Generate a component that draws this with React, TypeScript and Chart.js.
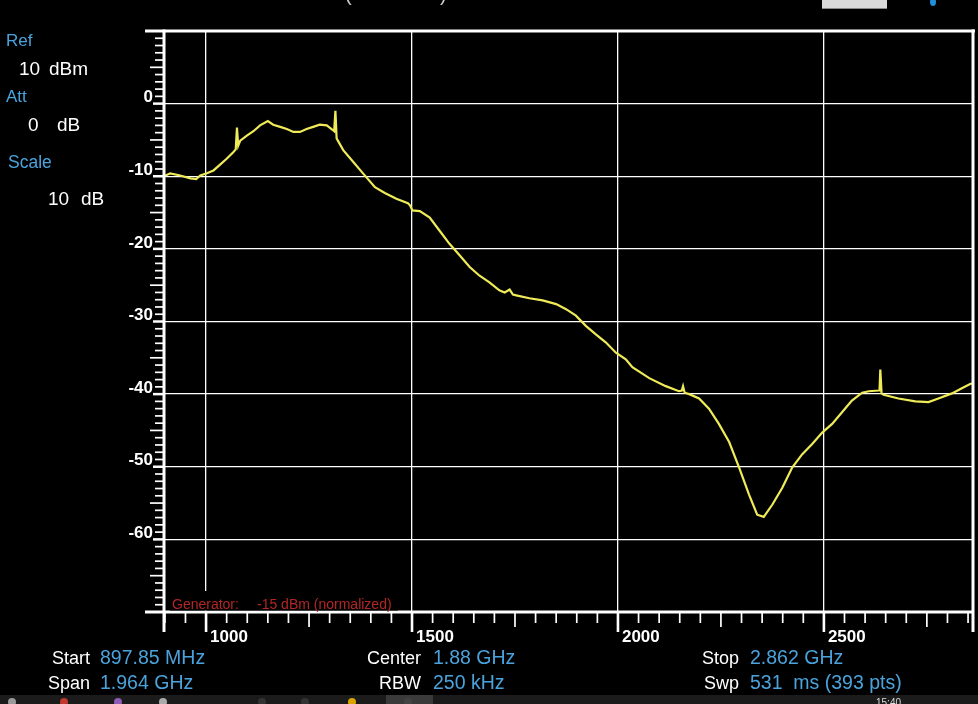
import { useEffect, useRef } from 'react';
import { Chart, registerables } from 'chart.js';

Chart.register(...registerables);

const FONT = '"Liberation Sans", Arial, sans-serif';
const BLUE = '#4aa3dc';
const TRACE = '#efeb58';

// Trace: frequency (MHz) and level (dBm)
const freqMHz = [
  898, 913, 937, 962, 976, 986, 1002, 1018, 1034, 1050, 1066, 1072, 1075, 1078, 1083,
  1099, 1115, 1131, 1150, 1163, 1180, 1196, 1212, 1228, 1244, 1260, 1276, 1293, 1307,
  1311, 1314, 1317, 1321, 1333, 1357, 1381, 1410, 1434, 1462, 1490, 1495, 1501, 1519,
  1543, 1567, 1591, 1616, 1640, 1664, 1688, 1712, 1725, 1737, 1745, 1753, 1785, 1817,
  1850, 1874, 1898, 1922, 1947, 1971, 1995, 2019, 2035, 2076, 2116, 2148, 2155, 2158,
  2162, 2173, 2197, 2221, 2245, 2270, 2294, 2318, 2338, 2354, 2375, 2399, 2423, 2447,
  2471, 2496, 2520, 2544, 2568, 2593, 2609, 2633, 2635, 2637, 2640, 2645, 2681, 2722,
  2754, 2778, 2811, 2835, 2855, 2862,
];
const levelDbm = [
  -10.0, -9.6, -9.9, -10.3, -10.4, -9.9, -9.6, -9.2, -8.4, -7.6, -6.7, -6.3, -3.3, -5.8, -5.1,
  -4.4, -3.8, -3.0, -2.4, -2.9, -3.2, -3.5, -3.9, -3.9, -3.5, -3.2, -2.9, -3.0, -3.6,
  -3.8, -1.0, -4.8, -5.2, -6.4, -8.0, -9.6, -11.5, -12.3, -13.1, -13.7, -14.0, -14.7, -14.8,
  -15.7, -17.5, -19.3, -20.9, -22.5, -23.7, -24.6, -25.7, -26.0, -25.6, -26.3, -26.4, -26.8, -27.1,
  -27.6, -28.3, -29.2, -30.6, -31.8, -32.9, -34.3, -35.2, -36.3, -37.8, -38.9, -39.6, -39.5, -38.9,
  -39.8, -40.0, -40.6, -42.0, -44.1, -46.6, -50.1, -53.8, -56.6, -56.9, -55.2, -52.9, -50.1, -48.3,
  -46.9, -45.3, -44.1, -42.5, -40.9, -39.8, -39.6, -39.5, -39.5, -36.6, -39.9, -40.1, -40.6, -41.0,
  -41.1, -40.6, -39.9, -39.2, -38.6, -38.5,
];

const xTickValues = [1000, 1500, 2000, 2500];
const yTickValues = [0, -10, -20, -30, -40, -50, -60];
const xMin = 897.85;
const xMax = 2862;
const yMin = -70;
const yMax = 10;

const leftPanel = [
  { text: 'Ref', color: 'blue', x: 6, y: 46, size: 17 },
  { text: '10', color: 'white', x: 19, y: 75, size: 19 },
  { text: 'dBm', color: 'white', x: 49, y: 75, size: 19 },
  { text: 'Att', color: 'blue', x: 6, y: 102, size: 17 },
  { text: '0', color: 'white', x: 28, y: 131, size: 19 },
  { text: 'dB', color: 'white', x: 57, y: 131, size: 19 },
  { text: 'Scale', color: 'blue', x: 8, y: 168, size: 17.5 },
  { text: '10', color: 'white', x: 48, y: 205, size: 19 },
  { text: 'dB', color: 'white', x: 81, y: 205, size: 19 },
];

const bottomLabels = ['Start', 'Span', 'Center', 'RBW', 'Stop', 'Swp'];
const bottomValues = ['897.85 MHz', '1.964 GHz', '1.88 GHz', '250 kHz', '2.862 GHz', '531  ms (393 pts)'];
const generatorLabel = 'Generator:';
const generatorValue = '-15 dBm (normalized)';

const framePlugin = {
  id: 'analyzerFrame',
  beforeDraw(chart: any) {
    const { ctx, width, height } = chart;
    ctx.save();
    ctx.fillStyle = '#000';
    ctx.fillRect(0, 0, width, height);
    ctx.restore();
  },
  afterDraw(chart: any) {
    const { ctx, chartArea: a } = chart;
    const xs = chart.scales.x;
    const ys = chart.scales.y;
    ctx.save();
    ctx.strokeStyle = '#ffffff';
    ctx.lineCap = 'butt';
    const line = (x1: number, y1: number, x2: number, y2: number, w: number) => {
      ctx.lineWidth = w;
      ctx.beginPath();
      ctx.moveTo(x1, y1);
      ctx.lineTo(x2, y2);
      ctx.stroke();
    };
    // y ticks every 1 dB
    for (let v = yMax - 1; v > yMin; v--) {
      const py = ys.getPixelForValue(v);
      if (v % 10 === 0) line(153, py, a.left, py, 2.5);
      else if (v % 5 === 0) line(150, py, a.left, py, 1.7);
      else line(155, py, a.left, py, 1.7);
    }
    // x ticks every 50 MHz
    for (let f = Math.ceil(xMin / 50) * 50; f < xMax; f += 50) {
      const px = xs.getPixelForValue(f);
      if (f % 500 === 0) line(px, a.bottom, px, a.bottom + 20, 2.6);
      else if (f % 250 === 0) line(px, a.bottom, px, a.bottom + 15, 1.7);
      else line(px, a.bottom, px, a.bottom + 11, 1.7);
    }
    // frame
    line(145, a.top, a.right + 2, a.top, 3);
    line(145, a.bottom, a.right, a.bottom, 3);
    line(a.left, a.top - 1.5, a.left, a.bottom + 20, 3);
    line(a.right, a.top - 1.5, a.right, a.bottom + 20, 3);

    // generator box
    ctx.fillStyle = '#000';
    ctx.fillRect(a.left + 6, a.bottom - 21, 228, 19.5);
    ctx.fillStyle = '#b32626';
    ctx.font = `14px ${FONT}`;
    ctx.textBaseline = 'alphabetic';
    ctx.textAlign = 'left';
    ctx.fillText(generatorLabel, 172, 609);
    ctx.fillText(generatorValue, 257, 609);

    // left panel
    for (const t of leftPanel) {
      ctx.fillStyle = t.color === 'blue' ? BLUE : '#ffffff';
      ctx.font = `${t.size}px ${FONT}`;
      ctx.fillText(t.text, t.x, t.y);
    }

    // bottom info
    const cols = [90, 421, 739];
    const valX = [100, 433, 750];
    const rows = [664, 689];
    for (let i = 0; i < bottomLabels.length; i++) {
      const c = Math.floor(i / 2);
      const r = i % 2;
      ctx.textAlign = 'right';
      ctx.fillStyle = '#ffffff';
      ctx.font = `18px ${FONT}`;
      ctx.fillText(bottomLabels[i], cols[c], rows[r]);
      ctx.textAlign = 'left';
      ctx.fillStyle = BLUE;
      ctx.font = `19.5px ${FONT}`;
      ctx.fillText(bottomValues[i], valX[c], rows[r]);
    }

    // top remnants of the window
    ctx.fillStyle = '#d9d9d9';
    ctx.fillRect(822, 0, 65, 9);
    ctx.fillStyle = '#8a8a8a';
    ctx.fillRect(822, 8, 65, 1);
    ctx.fillStyle = '#1e8fd8';
    ctx.beginPath();
    ctx.ellipse(933, 2, 3, 4, 0, 0, Math.PI * 2);
    ctx.fill();
    ctx.fillStyle = '#cccccc';
    ctx.font = `20px ${FONT}`;
    ctx.fillText('(', 345, 1);
    ctx.fillText(')', 440, 1);

    // taskbar strip
    ctx.fillStyle = '#1b1b1b';
    ctx.fillRect(0, 695, 978, 9);
    ctx.fillStyle = '#3a3a3a';
    ctx.fillRect(386, 695, 47, 9);
    const icons = [
      [12, '#9a9a9a'], [64, '#c0392b'], [118, '#8e5bb5'], [163, '#aaaaaa'],
      [262, '#333333'], [305, '#333333'], [352, '#d9a400'], [408, '#444444'],
    ] as const;
    for (const [ix, col] of icons) {
      ctx.fillStyle = col as string;
      ctx.beginPath();
      ctx.arc(ix as number, 702, 4, 0, Math.PI * 2);
      ctx.fill();
    }
    ctx.fillStyle = '#dddddd';
    ctx.font = `10px ${FONT}`;
    ctx.fillText('15:40', 876, 706);
    ctx.restore();
  },
};

export default function App() {
  const ref = useRef<HTMLCanvasElement | null>(null);
  useEffect(() => {
    if (!ref.current) return;
    const points = freqMHz.map((f, i) => ({ x: f, y: levelDbm[i] }));
    const chart = new Chart(ref.current, {
      type: 'line',
      data: {
        datasets: [
          {
            data: points,
            borderColor: TRACE,
            borderWidth: 2.2,
            pointRadius: 0,
            tension: 0,
            fill: false,
          },
        ],
      },
      options: {
        animation: false,
        responsive: false,
        devicePixelRatio: 1,
        layout: { padding: { top: 31, right: 5, left: 0, bottom: 0 } },
        plugins: { legend: { display: false }, tooltip: { enabled: false }, title: { display: false } },
        scales: {
          x: {
            type: 'linear',
            position: 'bottom',
            min: xMin,
            max: xMax,
            afterBuildTicks: (s: any) => {
              s.ticks = xTickValues.map((v) => ({ value: v }));
            },
            afterFit: (s: any) => {
              s.height = 92;
            },
            grid: { color: '#ffffff', lineWidth: 1.3, drawTicks: false },
            border: { display: false },
            ticks: {
              color: '#ffffff',
              font: { family: FONT, size: 17, weight: 'bold' },
              align: 'start',
              labelOffset: 4,
              padding: 15,
              maxRotation: 0,
              autoSkip: false,
              callback: (v: any) => String(v),
            },
          },
          y: {
            type: 'linear',
            min: yMin,
            max: yMax,
            afterBuildTicks: (s: any) => {
              s.ticks = yTickValues.map((v) => ({ value: v }));
            },
            afterFit: (s: any) => {
              s.width = 164;
            },
            grid: { color: '#ffffff', lineWidth: 1.3, drawTicks: false },
            border: { display: false },
            ticks: {
              color: '#ffffff',
              font: { family: FONT, size: 17, weight: 'bold' },
              padding: 11,
              labelOffset: -6,
              autoSkip: false,
              callback: (v: any) => String(v),
            },
          },
        },
      },
      plugins: [framePlugin],
    });
    return () => chart.destroy();
  }, []);
  return (
    <div style={{ position: 'fixed', left: 0, top: 0, width: 978, height: 704, background: '#000' }}>
      <canvas ref={ref} width={978} height={704} style={{ display: 'block', width: 978, height: 704 }} />
    </div>
  );
}
